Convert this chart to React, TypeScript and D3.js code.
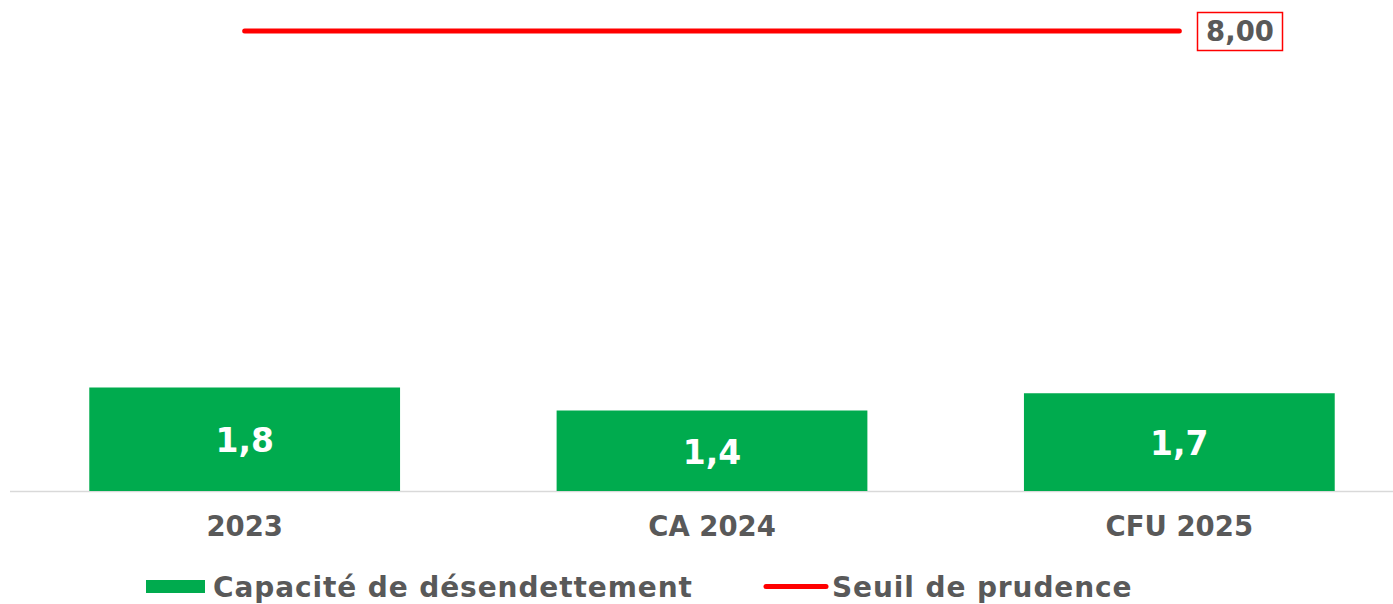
import React from "react";
import * as d3 from "d3";

const categories = ["2023", "CA 2024", "CFU 2025"];
const capacite = [1.8, 1.4, 1.7];
const seuil = [8, 8, 8];
const seuilLabel = "8,00";
const legendLabels = ["Capacité de désendettement", "Seuil de prudence"];

const W = 1393;
const H = 604;
const GREEN = "#00AB4E";
const RED = "#FF0000";
const GREY = "#595959";
const FONT = "'DejaVu Sans', Verdana, sans-serif";

export default function App() {
  const x = d3.scaleBand<string>().domain(categories).range([11, 1413]).paddingInner(0.335).paddingOuter(0.1675);
  const y = d3.scaleLinear().domain([0, 8]).range([491, 31]);
  const fmt = (v: number) => v.toFixed(1).replace(".", ",");
  const line = d3
    .line<number>()
    .x((_, i) => (x(categories[i]) as number) + x.bandwidth() / 2)
    .y((d) => y(d));

  return (
    <svg width={W} height={H} style={{ position: "absolute", left: 0, top: 0, background: "#fff" }} fontFamily={FONT}>
      <line x1={10} x2={W} y1={y(0) + 0.5} y2={y(0) + 0.5} stroke="#D9D9D9" strokeWidth={1.5} />
      {capacite.map((v, i) => (
        <g key={categories[i]}>
          <rect x={x(categories[i])} y={y(v)} width={x.bandwidth()} height={y(0) - y(v)} fill={GREEN} />
          <text
            x={(x(categories[i]) as number) + x.bandwidth() / 2}
            y={(y(v) + y(0)) / 2 + 13}
            textAnchor="middle"
            fill="#fff"
            fontWeight="bold"
            fontSize={33}
          >
            {fmt(v)}
          </text>
          <text
            x={(x(categories[i]) as number) + x.bandwidth() / 2}
            y={536}
            textAnchor="middle"
            fill={GREY}
            fontWeight="bold"
            fontSize={27.5}
          >
            {categories[i]}
          </text>
        </g>
      ))}
      <path d={line(seuil) as string} stroke={RED} strokeWidth={5} fill="none" strokeLinecap="round" />
      <rect x={1197.5} y={12.5} width={85} height={38} fill="#fff" stroke={RED} strokeWidth={1.5} />
      <text x={1240} y={41} textAnchor="middle" fill={GREY} fontWeight="bold" fontSize={27.5}>
        {seuilLabel}
      </text>
      <g>
        <rect x={146} y={580} width={59} height={13} fill={GREEN} />
        <text x={213} y={597} fill={GREY} fontWeight="bold" fontSize={28} letterSpacing={0.9}>
          {legendLabels[0]}
        </text>
        <line x1={766} x2={826} y1={586.5} y2={586.5} stroke={RED} strokeWidth={5} strokeLinecap="round" />
        <text x={832} y={597} fill={GREY} fontWeight="bold" fontSize={28} letterSpacing={0.9}>
          {legendLabels[1]}
        </text>
      </g>
    </svg>
  );
}
